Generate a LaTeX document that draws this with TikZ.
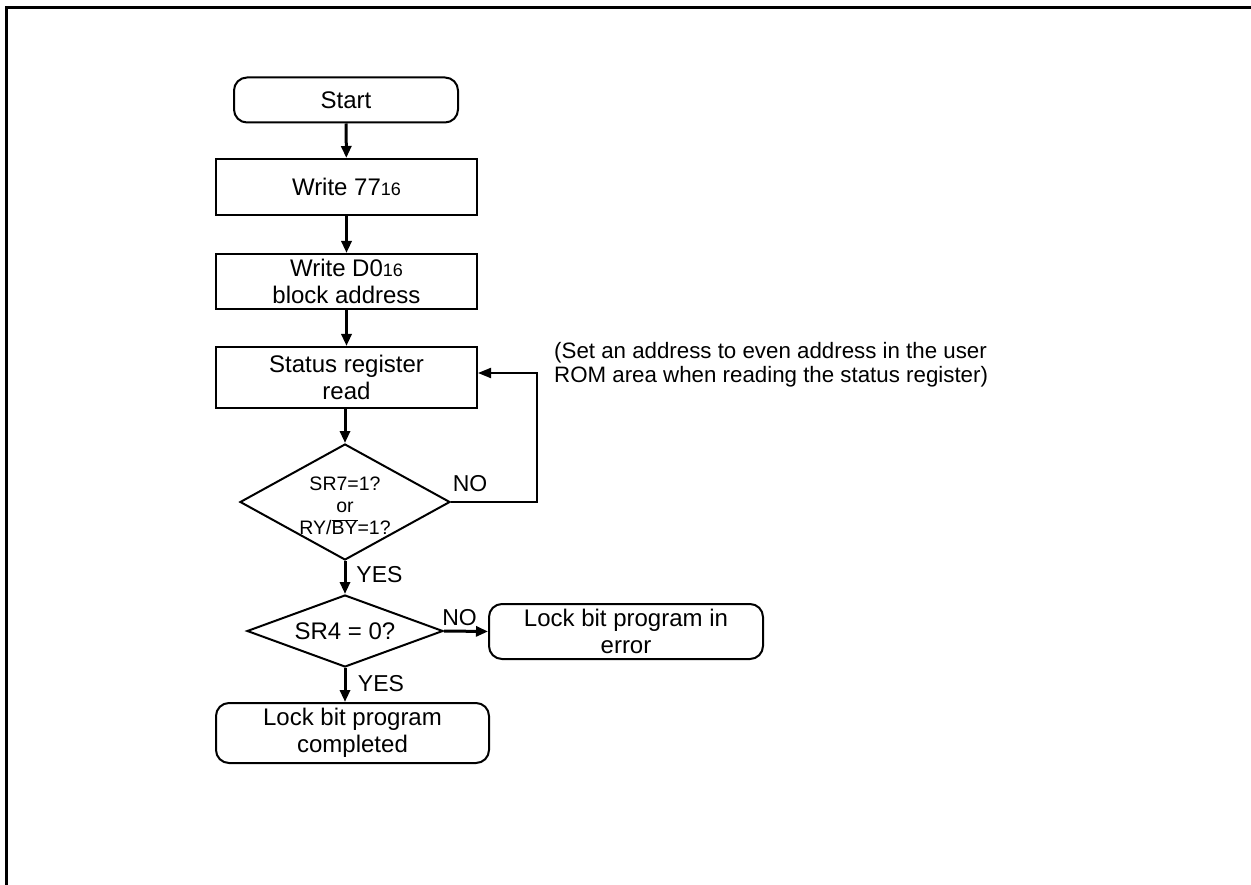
\documentclass[tikz,border=0pt]{standalone}
\usepackage{fontspec}
\setmainfont{Liberation Sans}
\usetikzlibrary{shapes.geometric,arrows.meta}
\tikzset{
  every node/.style={font=\fontsize{24}{27}\selectfont, inner sep=0pt},
  procbox/.style={draw, line width=2pt, rectangle, align=center, minimum width=261pt},
  termbox/.style={draw, line width=2pt, rectangle, rounded corners=13pt, align=center},
  decide/.style={draw, line width=2pt, diamond, align=center},
  flow/.style={line width=3pt, -{Triangle[length=12pt,width=10pt]}},
  loopline/.style={line width=2pt, -{Triangle[length=13pt,width=10pt]}},
  lbl/.style={font=\fontsize{23}{26}\selectfont},
  dtext/.style={font=\fontsize{19.5}{22}\selectfont, align=center},
  note/.style={font=\fontsize{22.3}{23.5}\selectfont, align=left, anchor=west}
}
\begin{document}
\begin{tikzpicture}[x=1pt,y=-1pt]
\useasboundingbox (0,0) rectangle (1251,885);
\draw[line width=3pt] (6.5,885) -- (6.5,8) -- (1251,8);
\node[termbox, minimum width=224pt, minimum height=45pt] (start) at (346,100) {Start};
\node[procbox, minimum height=56pt] (w77) at (346.5,187) {Write 77{\fontsize{18}{18}\selectfont 16}};
\node[procbox, minimum height=55pt] (wd0) at (346.5,281.5) {Write D0{\fontsize{18}{18}\selectfont 16}\\block address};
\node[procbox, minimum height=61pt] (stat) at (346.5,377.5) {Status register\\read};
\node[decide, minimum width=210pt, minimum height=116pt, aspect=1.81] (d1) at (345,502) {};
\node[dtext] (d1t) at (345,506) {SR7=1?\\or\\RY/$\overline{\mbox{BY}}$=1?};
\node[decide, minimum width=196pt, minimum height=72pt, aspect=2.72] (d2) at (345,631) {SR4 = 0?};
\node[termbox, minimum width=274pt, minimum height=55pt] (err) at (626,631.5) {Lock bit program in\\error};
\node[termbox, minimum width=273pt, minimum height=60pt] (done) at (352.5,733) {Lock bit program\\completed};
\node[note] (nt) at (554,364.5) {(Set an address to even address in the user\\ROM area when reading the status register)};
\coordinate (lp) at (537,373);
\draw[flow] (start) -- (w77);
\draw[flow] (w77) -- (wd0);
\draw[flow] (wd0) -- (stat);
\draw[flow] (stat.south -| d1.north) -- (d1.north);
\draw[flow] (d1.south) -- (d2.north);
\draw[flow] (d2.south) -- (d2.south |- done.north);
\draw[flow] (d2.east) -- (err.west);
\draw[loopline] (d1.east) -| (lp) -- (stat.east |- lp);
\node[lbl] (no1) at (470,484) {NO};
\node[lbl] (yes1) at (379.5,575) {YES};
\node[lbl] (no2) at (459.5,617.5) {NO};
\node[lbl] (yes2) at (381,683.5) {YES};
\end{tikzpicture}
\end{document}
